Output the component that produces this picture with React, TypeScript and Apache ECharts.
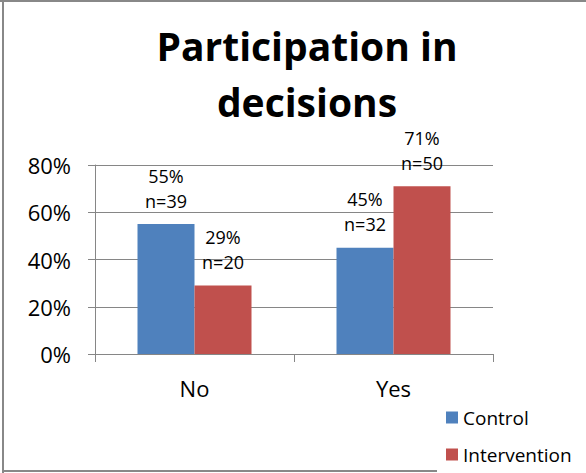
import React, { useEffect, useRef } from "react";
import * as echarts from "echarts";

const categories = ["No", "Yes"];
const controlValues = [0.55, 0.45];
const controlN = [39, 32];
const interventionValues = [0.29, 0.71];
const interventionN = [20, 50];
const yTicks = [0, 0.2, 0.4, 0.6, 0.8];

const FONT = "'Open Sans', 'Noto Sans', sans-serif";

export default function App() {
  const ref = useRef<HTMLDivElement>(null);
  useEffect(() => {
    if (!ref.current) return;
    const chart = echarts.init(ref.current, undefined, { renderer: "svg" });
    const mkLabel = (ns: number[]) => ({
      show: true,
      position: "top",
      distance: 3,
      offset: [0, -8],
      color: "#000",
      fontFamily: FONT,
      fontSize: 18,
      lineHeight: 25,
      formatter: (p: any) => `${Math.round(p.value * 100)}%\nn=${ns[p.dataIndex]}`,
    });
    chart.setOption({
      animation: false,
      backgroundColor: "#fff",
      title: {
        text: "Participation in\ndecisions",
        left: 302,
        top: 12,
        textAlign: "center",
        textStyle: {
          fontFamily: FONT,
          fontWeight: "bold",
          fontSize: 39,
          lineHeight: 56,
          color: "#000",
        },
      },
      legend: {
        orient: "vertical",
        left: 446,
        top: 408,
        itemWidth: 12,
        itemHeight: 12,
        itemGap: 18,
        icon: "rect",
        backgroundColor: "#fff",
        padding: [0, 0, 0, 0],
        textStyle: { fontFamily: FONT, fontSize: 19, lineHeight: 17, color: "#000" },
        data: ["Control", "Intervention"],
      },
      grid: { left: 95, right: 93, top: 165, bottom: 119 },
      xAxis: {
        type: "category",
        data: categories,
        axisLine: { lineStyle: { color: "#868686", width: 1 } },
        axisTick: { show: true, length: 8, lineStyle: { color: "#868686" } },
        axisLabel: { fontFamily: FONT, fontSize: 22, color: "#000", margin: 23 },
      },
      yAxis: {
        type: "value",
        min: yTicks[0],
        max: yTicks[yTicks.length - 1],
        interval: 0.2,
        axisLine: { show: true, lineStyle: { color: "#868686", width: 1 } },
        axisTick: { show: true, length: 7, lineStyle: { color: "#868686" } },
        splitLine: { lineStyle: { color: "#868686", width: 1 } },
        axisLabel: {
          fontFamily: FONT,
          fontSize: 22,
          color: "#000",
          margin: 24,
          formatter: (v: number) => `${Math.round(v * 100)}%`,
        },
      },
      series: [
        {
          name: "Control",
          type: "bar",
          data: controlValues,
          barWidth: 57,
          barGap: "0%",
          itemStyle: { color: "#4F81BD" },
          label: mkLabel(controlN),
        },
        {
          name: "Intervention",
          type: "bar",
          data: interventionValues,
          barWidth: 57,
          barGap: "0%",
          itemStyle: { color: "#C0504D" },
          label: mkLabel(interventionN),
        },
      ],
      graphic: [
        { type: "line", shape: { x1: 3, y1: 0, x2: 3, y2: 473 }, style: { stroke: "#888", lineWidth: 2 } },
        { type: "line", shape: { x1: 0, y1: 1, x2: 586, y2: 1 }, style: { stroke: "#888", lineWidth: 2 } },
        { type: "line", shape: { x1: 2, y1: 471, x2: 437, y2: 471 }, style: { stroke: "#888", lineWidth: 2 } },
      ],
    });
    return () => chart.dispose();
  }, []);
  return (
    <div
      ref={ref}
      style={{ position: "fixed", left: 0, top: 0, width: 586, height: 473 }}
    />
  );
}
